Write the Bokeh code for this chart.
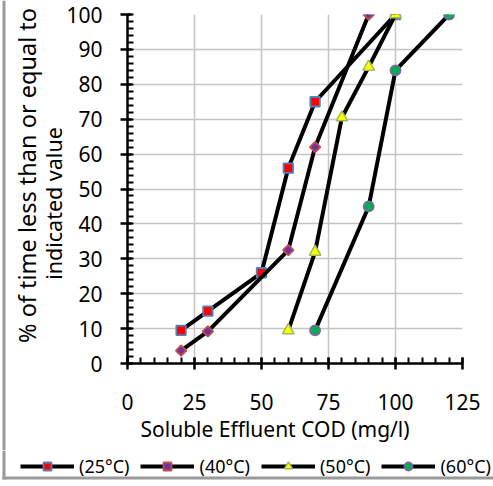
import math

from bokeh.core.properties import value
from bokeh.embed import file_html
from bokeh.layouts import column, row
from bokeh.models import FixedTicker, Legend, LegendItem, Range1d, Title
from bokeh.plotting import figure
from bokeh.resources import INLINE

# Cumulative distribution of soluble effluent COD at four temperatures
cod_25 = [20, 30, 50, 60, 70, 100]
pct_25 = [9.5, 15, 26, 56, 75, 100]

cod_40 = [20, 30, 60, 70, 90]
pct_40 = [3.7, 9.2, 32.5, 62, 100]

cod_50 = [60, 70, 80, 90, 100]
pct_50 = [9.5, 32, 70.5, 85, 100]

cod_60 = [70, 90, 100, 120]
pct_60 = [9.5, 45, 84, 100]

series_labels = ["(25°C)", "(40°C)", "(50°C)", "(60°C)"]

x_ticks = [0, 25, 50, 75, 100, 125]
y_ticks = [0, 10, 20, 30, 40, 50, 60, 70, 80, 90, 100]

FONT = "Noto Sans"
FRAME_GREY = "#9a9a9a"

TOP_H = 450      # height of the chart row
LEFT_W = 63      # strip holding the y-axis title
TOTAL_W = 493
TOTAL_H = 486
NAN = float("nan")

marker_styles = [
    dict(marker="square", size=9.5, fill_color="#ff0000",
         line_color="#4f81bd", line_width=1.8),
    dict(marker="square", size=7.5, angle=math.pi / 4,
         fill_color="#7030a0", line_color="#c0504d", line_width=1.8),
    dict(marker="triangle", size=11.5, fill_color="#ffff00",
         line_color="#9bbb59", line_width=1.5),
    dict(marker="circle", size=10, fill_color="#00b050",
         line_color="#8064a2", line_width=1.8),
]

# ---- main chart -------------------------------------------------------
p = figure(
    width=TOTAL_W - LEFT_W, height=TOP_H,
    x_range=Range1d(0, 125), y_range=Range1d(0, 100),
    output_backend="svg", toolbar_location=None,
    min_border_left=62, min_border_right=31,
    min_border_top=14, min_border_bottom=87,
)
p.outline_line_color = None
p.background_fill_color = "white"
p.border_fill_color = "white"

p.xaxis.ticker = FixedTicker(ticks=x_ticks, minor_ticks=list(range(0, 126, 5)))
p.yaxis.ticker = FixedTicker(ticks=y_ticks, minor_ticks=list(range(0, 101, 2)))
for ax in (p.xaxis[0], p.yaxis[0]):
    ax.axis_line_color = "black"
    ax.axis_line_width = 2.5
    ax.major_tick_line_color = "black"
    ax.major_tick_line_width = 2.5
    ax.minor_tick_line_color = "black"
    ax.minor_tick_line_width = 2
    ax.major_label_text_font = FONT
    ax.major_label_text_font_size = "21px"
    ax.major_label_text_color = "black"

p.xaxis.major_tick_in = 6
p.xaxis.major_tick_out = 6
p.xaxis.minor_tick_in = 6
p.xaxis.minor_tick_out = 0
p.xaxis.major_label_standoff = 24

p.yaxis.major_tick_in = 4
p.yaxis.major_tick_out = 7
p.yaxis.minor_tick_in = 6
p.yaxis.minor_tick_out = 0
p.yaxis.major_label_standoff = 18

p.xgrid.ticker = FixedTicker(ticks=x_ticks)
p.ygrid.ticker = FixedTicker(ticks=y_ticks)
p.grid.grid_line_color = "#c4c4c4"
p.grid.grid_line_width = 1.5

series = [(cod_25, pct_25), (cod_40, pct_40), (cod_50, pct_50), (cod_60, pct_60)]
for (xs, ys), mk in zip(series, marker_styles):
    p.line(xs, ys, line_color="black", line_width=4)
    p.scatter(xs, ys, **mk)

p.add_layout(Title(text="Soluble Effluent COD (mg/l)", align="left", offset=13,
                   standoff=0, text_font=FONT, text_font_size="21px",
                   text_font_style="normal", text_color="black"), "below")

# ---- y-axis title strip (own frame, not aligned with the chart frame) ----
ytitle = figure(
    width=LEFT_W, height=TOP_H,
    x_range=Range1d(0, LEFT_W), y_range=Range1d(TOP_H, 0),
    output_backend="svg", toolbar_location=None,
    x_axis_location=None, y_axis_location=None,
    min_border=0,
)
ytitle.frame_align = False
ytitle.outline_line_color = None
ytitle.grid.visible = False
ytitle.text(x=[26], y=[175], text=["% of time less than or equal to"],
            angle=math.pi / 2, text_align="center",
            text_baseline="alphabetic", text_font=value(FONT),
            text_font_size="23.5px", text_color="black")
ytitle.text(x=[53], y=[203], text=["indicated value"],
            angle=math.pi / 2, text_align="center",
            text_baseline="alphabetic", text_font=value(FONT),
            text_font_size="21.5px", text_color="black")
# left edge of the grey chart frame
ytitle.line(x=[3.5, 3.5], y=[0, TOP_H], line_color=FRAME_GREY, line_width=3)

# ---- legend strip -------------------------------------------------------
LEG_H = TOTAL_H - TOP_H
leg = figure(
    width=TOTAL_W, height=LEG_H,
    x_range=Range1d(0, TOTAL_W), y_range=Range1d(LEG_H, 0),
    output_backend="svg", toolbar_location=None,
    x_axis_location=None, y_axis_location=None,
    min_border=0,
)
leg.frame_align = False
leg.outline_line_color = None
leg.grid.visible = False

# legend swatches: same styling as the chart series, no visible points
items = []
for mk, lab in zip(marker_styles, series_labels):
    lr = leg.line(x=[NAN], y=[NAN], line_color="black", line_width=4)
    sr = leg.scatter(x=[NAN], y=[NAN], **mk)
    items.append(LegendItem(label=lab, renderers=[lr, sr]))

legend = Legend(
    items=items, orientation="horizontal",
    location=(20, 8),
    glyph_width=54, glyph_height=20, label_standoff=5, spacing=11,
    padding=0, margin=0, border_line_color=None, background_fill_alpha=0,
    label_text_font=FONT, label_text_font_size="18px",
    label_text_color="black",
)
leg.add_layout(legend, "center")

# lower part of the grey chart frame
leg.line(x=[3.5, 3.5], y=[0, 29], line_color=FRAME_GREY, line_width=3)
leg.line(x=[2, TOTAL_W], y=[27.5, 27.5], line_color=FRAME_GREY, line_width=3)

layout = column(row(ytitle, p), leg)

open("out.html", "w").write(file_html(layout, INLINE))
